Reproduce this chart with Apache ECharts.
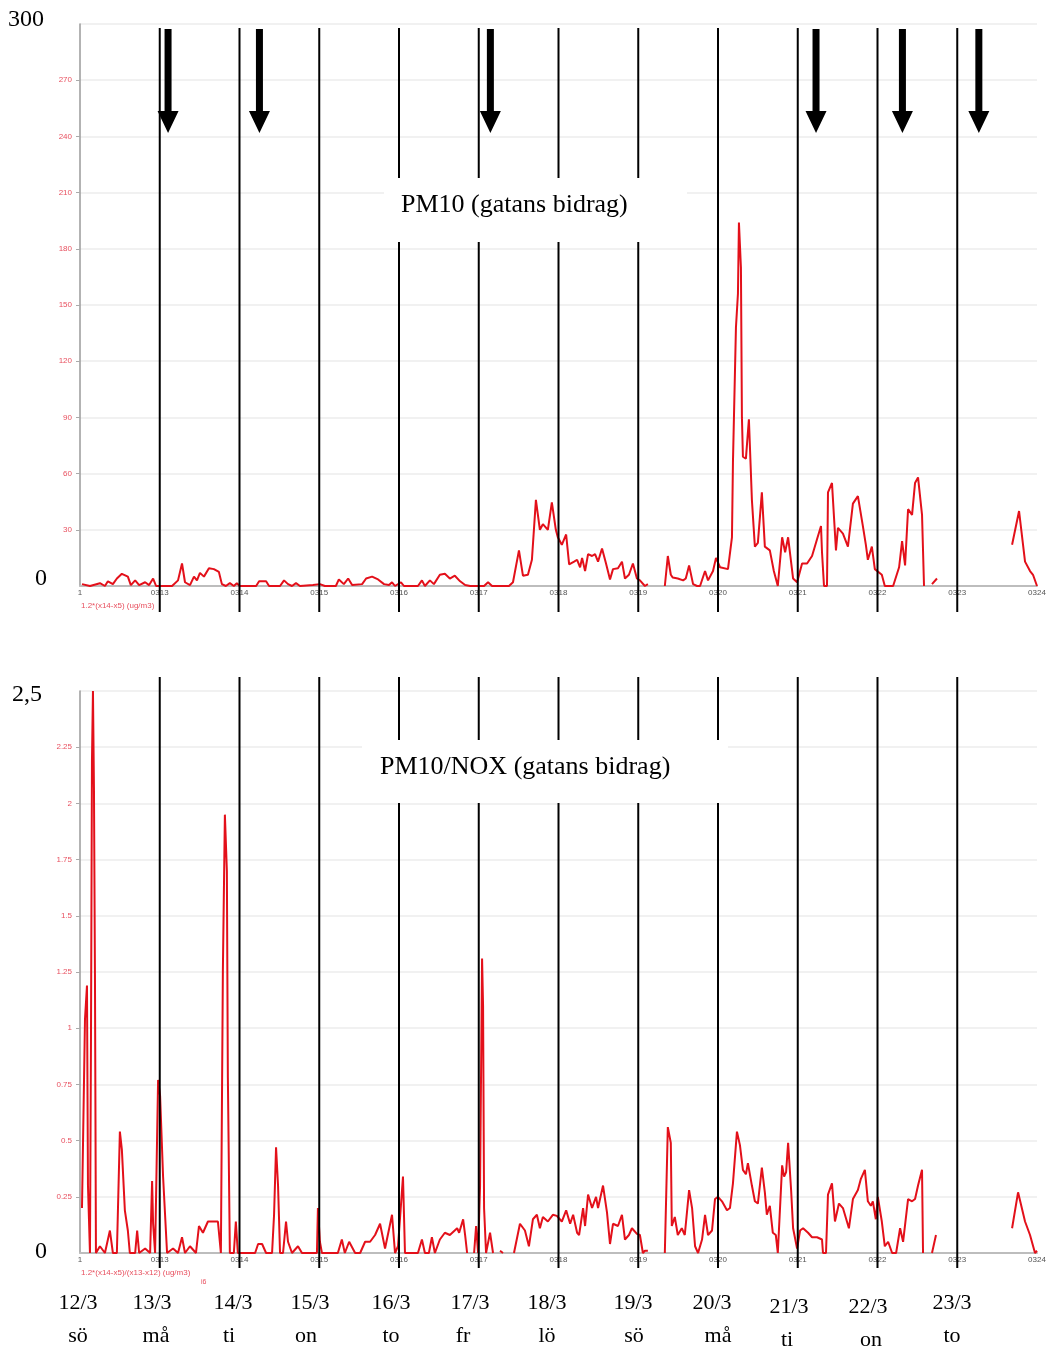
<!DOCTYPE html>
<html><head><meta charset="utf-8">
<script src="https://cdn.jsdelivr.net/npm/echarts@6/dist/echarts.min.js"></script>
<style>html,body{margin:0;padding:0;background:#fff}#c{width:1049px;height:1351px}</style>
</head><body><div id="c"></div><script>
// hours since 12/3 00:00 and values (null = gap)
const pm10Hours = [
  0.6,3,6,7.5,8.4,9.9,11.1,12.6,14.4,15.3,16.6,17.8,19.6,20.8,22,22.9,
  27.7,29.5,30.7,31.6,33.1,34.3,35.2,36.1,37.3,38.8,40.3,41.8,42.7,43.9,45.1,46.3,47.2,48.1,
  53,53.9,56,56.9,60.2,61.4,62.6,63.8,65,66.2,70.1,
  72.2,73.7,77,77.9,79.4,80.7,81.9,84.9,86.1,87.9,89.7,91.5,93,93.9,94.8,
  96.6,97.5,101.7,102.9,103.8,105.3,106.5,108.3,109.8,111.3,112.8,114.4,115.9,117.4,
  119.8,121.6,122.8,124,127.9,129.1,130.3,132.1,133.3,134.8,136,137.2,138.4,139.3,140.8,142,143.2,
  143.8,145,146.3,147.2,148.7,149.6,150.5,151.1,152,152.9,154.1,155,155.9,157.1,158.3,159.5,160.4,161.9,163.1,164,165.2,166.4,167.6,
  168.5,170,170.9,173,176,176.9,177.8,178.4,179.9,181.5,182.3,183.3,184.5,185.7,186.6,188.1,189,190.5,191.4,
  192.6,195,196.2,196.5,197.4,198,198.3,198.9,199.2,199.5,200.4,201.3,202.2,203.1,204,205.2,206.1,207.6,208.8,210,211.3,212.2,213.1,214.6,215.8,
  217.3,218.8,220.3,221.8,223,223.3,223.9,224.8,225.1,226.3,227.5,228.1,229.6,231.1,232.6,234.1,235.6,236.5,237.1,238.3,239.2,
  241.3,242.2,244.7,246.5,247.4,248.3,249.2,250.4,251.3,252.2,253.4,254,255,256.4,257.9,260,
  280.5,282.6,284.4,285.9,286.8,288
];
const pm10Values = [
  1,0,1.5,0,2.5,1,4,6.5,5,0.5,3,0.5,2,0.5,4,0,
  0,3,12,2,0.5,5,3,7,5,9.5,9,7.5,1,0,1.5,0,1.5,0,
  0,2.5,2.5,0,0,3,1,0,1.5,0,0.5,
  1,0,0,3.5,1,4,0.5,1,4,5,3.5,1,0.5,2,0,
  2,0,0,3,0,3,1,6,6.5,4,5.5,2.5,0.5,0,
  0,0,2,0,0,0,2,19,5.5,6,14,46,30,33,30,44.6,30,
  26,22,27.5,11.5,13,14,10,15,8,17,16,17,13,20,12,3.5,9,9.5,13,4,6,12,4,
  3,0,1,null,0,16,6,4.5,4,3,4,11,1,0,0,8,3,8,15,
  10,9,26,66,138,156,194,170,90,69,68,89,46,21,23,50,21,19,8,0,26,18,26,4,2,
  12,12,16,25,32,18,0,0,50,55,19,31,28,21,44,48,32,22,14,21,9,
  6,0,0,10,24,11,41,38,55,58,38,0,null,1,4,null,
  22,40,13,8,6,0
];

const ratioHours = [
  0.6,1.5,2.1,2.4,3,3.3,3.6,3.9,4.2,4.5,4.8,6,7.5,9,9.9,11.1,12,12.6,13.5,14.4,15,16.6,17.2,17.8,19.6,21.1,21.7,22,22.6,23.5,24.1,25,26.2,
  28,29.5,30.7,31.6,33.1,34.9,35.8,37,38.5,41.5,42.4,43,43.6,44.2,44.5,45.1,46.3,46.9,47.5,
  52.7,53.6,54.8,56,57.8,58.4,59,59.6,60.2,61.1,62,62.6,63.8,65.6,66.8,71.3,71.6,72.2,72.8,
  77.6,78.8,79.7,81,82.8,84.3,85.8,87.3,88.8,90.3,91.8,93.9,94.8,
  95.7,97.2,97.8,101.7,102.9,103.8,105,105.9,106.8,108.3,109.8,111.3,113.5,114.1,115.3,115.9,116.5,117.5,118.6,119.2,119.8,
  120.4,121,121.3,121.6,122.2,123.4,124.3,125.3,126.4,127.3,129,130.6,132.4,133.9,135.1,136.3,137.5,138.4,139.3,140.8,142.3,143.5,
  145,146.3,147.5,148.4,149.6,150.2,151.4,152,152.9,154.1,155.3,155.9,157.4,158.6,159.5,160.4,161.9,163.1,164,165.2,166.1,167.6,
  168.5,169.4,170,170.9,173,176,176.9,177.8,178.1,179,179.9,181.1,182,183.3,184.2,185.1,186,187.2,188.1,189,190.2,191.1,192,
  193.2,194.7,195.6,196.5,197.7,198.6,199.5,200.4,201,202.2,203.1,204,205.2,206.1,206.7,207.6,208.5,209.4,210,211.3,211.9,212.5,213.1,214,214.6,215.8,
  216.7,217.6,219.1,220.3,221.8,223.3,223.6,224.5,225.1,226.3,227.2,228.4,229.6,231.4,232.6,234.1,235,236.2,237.1,238,238.6,239.5,
  240.1,241.3,242.2,243.2,244.4,245.6,246.8,247.7,249.2,250.4,251.3,252.2,253.4,253.7,255,256.4,257.6,260,
  280.5,282.3,284.4,285.9,287.4,288
];
const ratioValues = [
  0.2,1.04,1.19,0.3,0,0.94,2.19,2.5,2.07,1.24,0,0.03,0,0.1,0,0,0.54,0.46,0.19,0.1,0,0,0.1,0,0.02,0,0.32,0.13,0,0.77,0.7,0.34,0,
  0.02,0,0.07,0,0.03,0,0.12,0.09,0.14,0.14,0,1.26,1.95,1.7,0.78,0,0,0.14,0,
  0,0.04,0.04,0,0,0.17,0.47,0.3,0,0,0.14,0.05,0,0.03,0,0,0.2,0.05,0,
  0,0.06,0,0.05,0,0,0.05,0.05,0.08,0.13,0.02,0.17,0,
  0.03,0.34,0,0,0.06,0,0,0.07,0,0.06,0.09,0.08,0.11,0.09,0.15,0.08,0,null,0,0.12,0,
  0.3,1.31,1.1,0.2,0,0.09,0,null,0.01,0,null,0,0.13,0.1,0.03,0.15,0.17,0.11,0.16,0.14,0.17,0.165,
  0.14,0.19,0.13,0.17,0.09,0.08,0.2,0.12,0.26,0.2,0.25,0.2,0.3,0.18,0.04,0.13,0.12,0.17,0.06,0.08,0.11,0.085,
  0.08,0,0.01,0.01,null,0,0.56,0.49,0.12,0.16,0.08,0.11,0.08,0.28,0.2,0.03,0,0.06,0.17,0.08,0.1,0.24,0.25,
  0.23,0.19,0.2,0.31,0.54,0.48,0.37,0.35,0.4,0.3,0.23,0.22,0.38,0.27,0.17,0.21,0.09,0.08,0,0.39,0.34,0.36,0.49,0.28,0.11,0.02,
  0.1,0.11,0.09,0.07,0.07,0.06,0,0,0.26,0.31,0.14,0.22,0.2,0.11,0.24,0.28,0.33,0.37,0.23,0.21,0.23,0.15,
  0.25,0.14,0.03,0.05,0,0,0.11,0.05,0.24,0.23,0.24,0.3,0.37,0,null,0,0.08,null,
  0.11,0.27,0.14,0.08,0,0.01
];

const dayLineHours = [24,48,72,96,120,144,168,192,216,240,264];
const arrowHours = [26.5,54,123.5,221.5,247.5,270.5];
const dateLabels = ['12/3','13/3','14/3','15/3','16/3','17/3','18/3','19/3','20/3','21/3','22/3','23/3'];
const weekdayLabels = ['sö','må','ti','on','to','fr','lö','sö','må','ti','on','to'];
const upperTitle = 'PM10 (gatans bidrag)';
const lowerTitle = 'PM10/NOX (gatans bidrag)';

const serif = '"Liberation Serif","DejaVu Serif",serif';
const chart = echarts.init(document.getElementById('c'), null, {renderer:'canvas'});

function xAxisCfg(gi){
  return {
    gridIndex: gi, type:'value', min:0, max:288, interval:24,
    axisLine:{show:true, onZero:false, lineStyle:{color:'#bdbdbd', width:2}},
    axisTick:{show:false},
    splitLine:{show:false},
    axisLabel:{color:'#555', fontSize:8, margin:3, fontFamily:'Arial',
      formatter: v => v===0 ? '1' : '03' + (12 + v/24)}
  };
}
function yAxisCfg(gi, max, interval){
  return {
    gridIndex: gi, type:'value', min:0, max:max, interval:interval,
    axisLine:{show:true, lineStyle:{color:'#9a9a9a', width:1.5}},
    axisTick:{show:true, length:4, lineStyle:{color:'#aaa'}},
    splitLine:{show:true, lineStyle:{color:'#ececec', width:1.5}},
    axisLabel:{color:'#e8505f', fontSize:8, margin:8, fontFamily:'Arial', showMinLabel:false, showMaxLabel:false,
      formatter: v => String(v)}
  };
}

chart.setOption({
  animation:false,
  backgroundColor:'#fff',
  grid:[
    {left:80, top:24, width:957, height:562},
    {left:80, top:691, width:957, height:562}
  ],
  xAxis:[xAxisCfg(0), xAxisCfg(1)],
  yAxis:[yAxisCfg(0,300,30), yAxisCfg(1,2.5,0.25)],
  series:[
    {type:'line', xAxisIndex:0, yAxisIndex:0, showSymbol:false, connectNulls:false,
     lineStyle:{color:'#e3101a', width:2}, data: pm10Hours.map((h,i)=>[h, pm10Values[i]])},
    {type:'line', xAxisIndex:1, yAxisIndex:1, showSymbol:false, connectNulls:false,
     lineStyle:{color:'#e3101a', width:2}, data: ratioHours.map((h,i)=>[h, ratioValues[i]])}
  ]
});

const g = [];
// day separator lines
dayLineHours.forEach(h => {
  const x = chart.convertToPixel({xAxisIndex:0}, h);
  g.push({type:'line', z:50, shape:{x1:x,y1:28,x2:x,y2:612}, style:{stroke:'#000', lineWidth:2}});
  const x2 = chart.convertToPixel({xAxisIndex:1}, h);
  g.push({type:'line', z:50, shape:{x1:x2,y1:677,x2:x2,y2:1268}, style:{stroke:'#000', lineWidth:2}});
});
// arrows
arrowHours.forEach(h => {
  const x = chart.convertToPixel({xAxisIndex:0}, h);
  g.push({type:'polygon', z:60, shape:{points:[[x-3.5,29],[x+3.5,29],[x+3.5,111],[x+10.5,111],[x,133],[x-10.5,111],[x-3.5,111]]}, style:{fill:'#000'}});
});
// title boxes
g.push({type:'rect', z:70, shape:{x:384,y:178,width:303,height:64}, style:{fill:'#fff'}});
g.push({type:'text', z:71, x:401, y:205, style:{text:upperTitle, font:'26px '+serif, fill:'#000', textVerticalAlign:'middle'}});
g.push({type:'rect', z:70, shape:{x:362,y:740,width:366,height:63}, style:{fill:'#fff'}});
g.push({type:'text', z:71, x:380, y:767, style:{text:lowerTitle, font:'26px '+serif, fill:'#000', textVerticalAlign:'middle'}});
// big axis end labels
g.push({type:'text', z:71, x:8, y:20, style:{text:'300', font:'24px '+serif, fill:'#000', textVerticalAlign:'middle'}});
g.push({type:'text', z:71, x:35, y:579, style:{text:'0', font:'24px '+serif, fill:'#000', textVerticalAlign:'middle'}});
g.push({type:'text', z:71, x:12, y:695, style:{text:'2,5', font:'24px '+serif, fill:'#000', textVerticalAlign:'middle'}});
g.push({type:'text', z:71, x:35, y:1252, style:{text:'0', font:'24px '+serif, fill:'#000', textVerticalAlign:'middle'}});
// small series name labels
g.push({type:'text', z:71, x:81, y:606, style:{text:'1.2*(x14-x5) (ug/m3)', font:'8px Arial', fill:'#e8505f', textVerticalAlign:'middle'}});
g.push({type:'text', z:71, x:81, y:1273, style:{text:'1.2*(x14-x5)/(x13-x12) (ug/m3)', font:'8px Arial', fill:'#e8505f', textVerticalAlign:'middle'}});
g.push({type:'text', z:71, x:201, y:1282, style:{text:'i6', font:'7px Arial', fill:'#e8505f', textVerticalAlign:'middle'}});
// bottom date / weekday labels
const dateX = [78,152,233,310,391,470,547,633,712,789,868,952];
const dayX  = [78,156,229,306,391,463,547,634,718,787,871,952];
const rowShift = [0,0,0,0,0,0,0,0,0,4,4,0];
dateLabels.forEach((t,i) => {
  g.push({type:'text', z:71, x:dateX[i], y:1303+rowShift[i], style:{text:t, font:'22px '+serif, fill:'#000', textAlign:'center', textVerticalAlign:'middle'}});
  g.push({type:'text', z:71, x:dayX[i], y:1336+rowShift[i], style:{text:weekdayLabels[i], font:'22px '+serif, fill:'#000', textAlign:'center', textVerticalAlign:'middle'}});
});
chart.setOption({graphic:g});
</script></body></html>
